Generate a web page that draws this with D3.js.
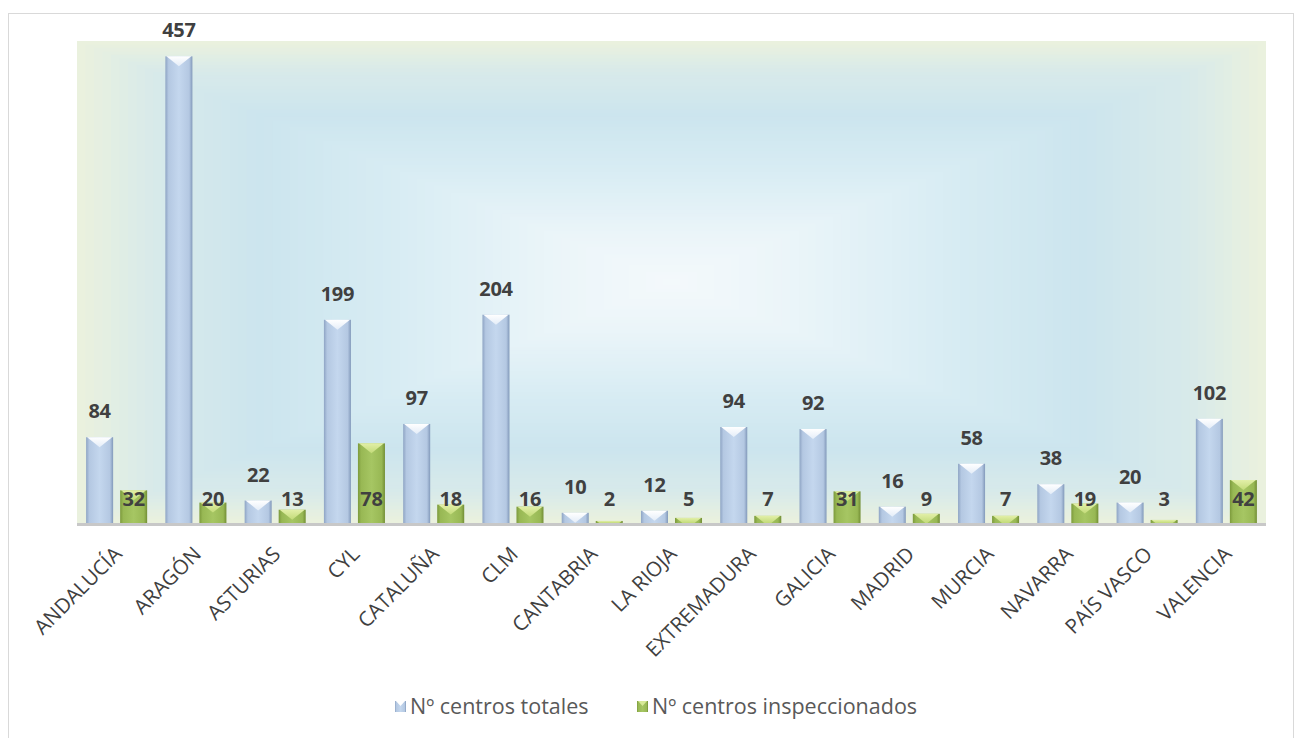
<!DOCTYPE html>
<html><head><meta charset="utf-8">
<script src="https://cdn.jsdelivr.net/npm/d3@7"></script>
<style>html,body{margin:0;padding:0;background:#fff;}svg{display:block;}</style>
</head><body><svg id="c" width="1301" height="738"></svg>
<script>
const categories = ["ANDALUCÍA","ARAGÓN","ASTURIAS","CYL","CATALUÑA","CLM","CANTABRIA","LA RIOJA","EXTREMADURA","GALICIA","MADRID","MURCIA","NAVARRA","PAÍS VASCO","VALENCIA"];
const totales = [84,457,22,199,97,204,10,12,94,92,16,58,38,20,102];
const inspeccionados = [32,20,13,78,18,16,2,5,7,31,9,7,19,3,42];
const seriesNames = ["Nº centros totales","Nº centros inspeccionados"];

const svg = d3.select("#c");
const plot = {l:77, r:1266, t:41, b:523};
const font = "'Open Sans', sans-serif";

// outer border
svg.append("rect").attr("x",8.5).attr("y",13.5).attr("width",1285).attr("height",740)
  .attr("fill","#fff").attr("stroke","#d9d9d9").attr("stroke-width",1);

// plot background: rectangular path gradient approximated with concentric rects
const bgColor = d3.scaleLinear()
  .domain([0,0.12,0.3,0.55,0.8,1])
  .range(["#eaf1de","#d8eaea","#cce5ee","#d9edf4","#ebf5f9","#f4f9fb"])
  .interpolate(d3.interpolateRgb);
const steps = 70;
const pw = plot.r-plot.l, ph = plot.b-plot.t;
const bg = svg.append("g");
for (let i=0;i<steps;i++){
  const t=i/steps;
  const ix=t*pw/2, iy=t*ph/2;
  bg.append("rect").attr("x",plot.l+ix).attr("y",plot.t+iy)
    .attr("width",Math.max(0,pw-2*ix)).attr("height",Math.max(0,ph-2*iy))
    .attr("fill",bgColor(t));
}

const x0 = d3.scaleBand().domain(categories).range([plot.l,plot.r]).paddingInner(0.23).paddingOuter(0.115);
const x1 = d3.scaleBand().domain([0,1]).range([0,x0.bandwidth()]).paddingInner(0.206);
const y = d3.scaleLinear().domain([0,472]).range([plot.b,plot.t]);

const defs = svg.append("defs");
function hgrad(id, stops){
  const g = defs.append("linearGradient").attr("id",id).attr("x1","0").attr("x2","1").attr("y1","0").attr("y2","0");
  stops.forEach(s=>g.append("stop").attr("offset",s[0]).attr("stop-color",s[1]));
}
hgrad("gBlue",[[0,"#8ea4c4"],[0.12,"#b4c8e2"],[0.5,"#c4d7ee"],[0.88,"#b4c8e2"],[1,"#8299ba"]]);
hgrad("gGreen",[[0,"#7c9a3c"],[0.12,"#98b854"],[0.5,"#a6c663"],[0.88,"#98b854"],[1,"#728e35"]]);
const vb = defs.append("linearGradient").attr("id","gTopB").attr("x1","0").attr("x2","0").attr("y1","0").attr("y2","1");
vb.append("stop").attr("offset",0).attr("stop-color","#ffffff");
vb.append("stop").attr("offset",1).attr("stop-color","#e4edf8");
const vg = defs.append("linearGradient").attr("id","gTopG").attr("x1","0").attr("x2","0").attr("y1","0").attr("y2","1");
vg.append("stop").attr("offset",0).attr("stop-color","#e2efa8");
vg.append("stop").attr("offset",1).attr("stop-color","#c2db78");

// baseline shadow
svg.append("rect").attr("x",plot.l).attr("y",plot.b).attr("width",pw).attr("height",3).attr("fill","#c8c8c8");

const data = categories.map((c,i)=>({c, vals:[totales[i],inspeccionados[i]]}));
const groups = svg.append("g").selectAll("g").data(data).join("g")
  .attr("transform",d=>`translate(${x0(d.c)},0)`);

groups.each(function(d){
  const g = d3.select(this);
  d.vals.forEach((v,k)=>{
    const bx = x1(k), bw = x1.bandwidth();
    const top = y(v), h = y(0)-y(v);
    g.append("rect").attr("x",bx).attr("y",top).attr("width",bw).attr("height",h)
      .attr("fill", k===0 ? "url(#gBlue)" : "url(#gGreen)");
    const th = Math.min(h, 10);
    if (th>0){
      const frac = th/10;
      g.append("path")
        .attr("d",`M${bx+1},${top} L${bx+bw-1},${top} L${bx+bw/2+(bw/2-1)*(1-frac)},${top+th} L${bx+bw/2-(bw/2-1)*(1-frac)},${top+th} Z`)
        .attr("fill", k===0 ? "url(#gTopB)" : "url(#gTopG)");
    }
    const ly = k===0 ? top-19 : plot.b-17;
    g.append("text").attr("x",bx+bw/2).attr("y",ly)
      .attr("text-anchor","middle").attr("font-family",font).attr("font-weight","bold")
      .attr("font-size",20).attr("letter-spacing","-0.3").attr("fill","#404040").text(v);
  });
});

// x axis labels
svg.append("g").selectAll("text").data(categories).join("text")
  .attr("transform",d=>`translate(${x0(d)+x0.bandwidth()/2-4},${plot.b+22}) rotate(-45)`)
  .attr("text-anchor","end").attr("dy","0.72em")
  .attr("font-family",font).attr("font-size",20.5).attr("fill","#404040").text(d=>d);

// legend
const leg = svg.append("g");
const legItems = [{x:395,name:seriesNames[0],fill:"url(#gBlue)",top:"#ffffff"},{x:637,name:seriesNames[1],fill:"url(#gGreen)",top:"#d8ea98"}];
legItems.forEach(it=>{
  leg.append("rect").attr("x",it.x).attr("y",701).attr("width",11).attr("height",11).attr("fill",it.fill);
  leg.append("path").attr("d",`M${it.x+1},701 L${it.x+10},701 L${it.x+5.5},706 Z`).attr("fill",it.top);
  leg.append("text").attr("x",it.x+15).attr("y",714).attr("font-family",font).attr("font-size",21.5)
    .attr("fill","#595959").text(it.name);
});
</script></body></html>
